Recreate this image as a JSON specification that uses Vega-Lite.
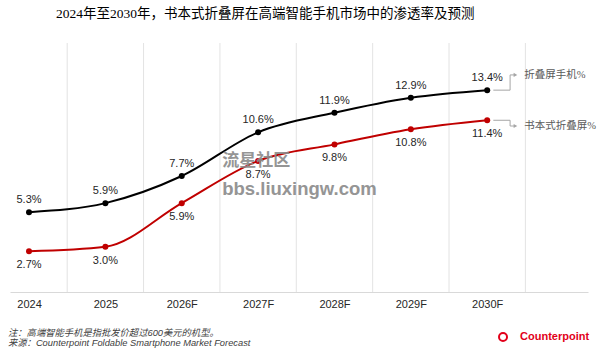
{
  "$schema": "https://vega.github.io/schema/vega-lite/v6.json",
  "autosize": "none",
  "width": 578,
  "height": 249,
  "padding": {"left": 10, "top": 43, "right": 12, "bottom": 62},
  "background": "white",
  "config": {"view": {"stroke": null}},
  "title": {
    "text": "2024年至2030年，书本式折叠屏在高端智能手机市场中的渗透率及预测",
    "anchor": "start",
    "dx": 48,
    "offset": 22,
    "font": "Liberation Serif, Noto Sans CJK SC",
    "fontSize": 13.5,
    "fontWeight": "normal",
    "color": "#000000"
  },
  "datasets": {
    "main": [
      {"i": 0, "s": "折叠屏手机%", "v": 0.053},
      {"i": 1, "s": "折叠屏手机%", "v": 0.059},
      {"i": 2, "s": "折叠屏手机%", "v": 0.077},
      {"i": 3, "s": "折叠屏手机%", "v": 0.106},
      {"i": 4, "s": "折叠屏手机%", "v": 0.119},
      {"i": 5, "s": "折叠屏手机%", "v": 0.129},
      {"i": 6, "s": "折叠屏手机%", "v": 0.134},
      {"i": 0, "s": "书本式折叠屏%", "v": 0.027},
      {"i": 1, "s": "书本式折叠屏%", "v": 0.030},
      {"i": 2, "s": "书本式折叠屏%", "v": 0.059},
      {"i": 3, "s": "书本式折叠屏%", "v": 0.087},
      {"i": 4, "s": "书本式折叠屏%", "v": 0.098},
      {"i": 5, "s": "书本式折叠屏%", "v": 0.108},
      {"i": 6, "s": "书本式折叠屏%", "v": 0.114}
    ],
    "gridlines": [{"i": 0.5}, {"i": 1.5}, {"i": 2.5}, {"i": 3.5}, {"i": 4.5}, {"i": 5.5}, {"i": 6.5}],
    "connectors": [
      {"s": "a", "o": 0, "i": 6.08, "v": 0.134},
      {"s": "a", "o": 1, "i": 6.30, "v": 0.134},
      {"s": "a", "o": 2, "i": 6.30, "v": 0.1441},
      {"s": "a", "o": 3, "i": 6.37, "v": 0.1441},
      {"s": "b", "o": 0, "i": 6.08, "v": 0.114},
      {"s": "b", "o": 1, "i": 6.30, "v": 0.114},
      {"s": "b", "o": 2, "i": 6.30, "v": 0.1102},
      {"s": "b", "o": 3, "i": 6.37, "v": 0.1102}
    ],
    "notes": [
      {"kind": "wm", "t": "流星社区", "i": 2.53, "v": 0.087},
      {"kind": "wm2", "t": "bbs.liuxingw.com", "i": 2.53, "v": 0.0684},
      {"kind": "foot", "t": "注：高端智能手机是指批发价超过600美元的机型。", "i": -0.275, "v": -0.0272},
      {"kind": "foot", "t": "来源：Counterpoint Foldable Smartphone Market Forecast", "i": -0.275, "v": -0.0339},
      {"kind": "logo", "t": "Counterpoint", "i": 6.43, "v": -0.0299},
      {"kind": "icon", "t": "", "i": 6.207, "v": -0.0299},
      {"kind": "end", "t": "折叠屏手机%", "i": 6.485, "v": 0.1441},
      {"kind": "end", "t": "书本式折叠屏%", "i": 6.485, "v": 0.1102}
    ]
  },
  "encoding": {
    "x": {
      "field": "i", "type": "quantitative",
      "scale": {"domain": [-0.249, 7.32], "nice": false, "zero": false},
      "axis": {
        "title": null, "values": [0, 1, 2, 3, 4, 5, 6], "grid": false, "ticks": false,
        "domainColor": "#d9d9d9", "domainWidth": 1,
        "labelExpr": "['2024','2025','2026F','2027F','2028F','2029F','2030F'][datum.value]",
        "labelFont": "Liberation Sans", "labelFontSize": 11, "labelColor": "#262626", "labelPadding": 6
      }
    },
    "y": {
      "field": "v", "type": "quantitative",
      "scale": {"domain": [0, 0.1653], "nice": false},
      "axis": null
    }
  },
  "layer": [
    {
      "data": {"name": "gridlines"},
      "mark": {"type": "rule", "color": "#e3e3e3", "strokeWidth": 1},
      "encoding": {"y": null}
    },
    {
      "data": {"name": "main"},
      "mark": {"type": "line", "interpolate": "monotone", "strokeWidth": 2},
      "encoding": {
        "color": {
          "field": "s", "type": "nominal",
          "scale": {"domain": ["折叠屏手机%", "书本式折叠屏%"], "range": ["#000000", "#c00000"]},
          "legend": null
        }
      }
    },
    {
      "data": {"name": "main"},
      "mark": {"type": "point", "filled": true, "opacity": 1, "size": 36},
      "encoding": {"color": {"field": "s", "type": "nominal"}}
    },
    {
      "data": {"name": "main"},
      "transform": [{"filter": "datum.s === '折叠屏手机%'"}],
      "mark": {"type": "text", "dy": -12, "font": "Liberation Sans", "fontSize": 11, "color": "#262626", "baseline": "middle"},
      "encoding": {"text": {"field": "v", "format": ".1%"}}
    },
    {
      "data": {"name": "main"},
      "transform": [{"filter": "datum.s === '书本式折叠屏%'"}],
      "mark": {"type": "text", "dy": 14, "font": "Liberation Sans", "fontSize": 11, "color": "#262626", "baseline": "middle"},
      "encoding": {"text": {"field": "v", "format": ".1%"}}
    },
    {
      "data": {"name": "connectors"},
      "mark": {"type": "line", "interpolate": "linear", "color": "#a6a6a6", "strokeWidth": 1},
      "encoding": {"detail": {"field": "s"}, "order": {"field": "o"}}
    },
    {
      "data": {"name": "connectors"},
      "transform": [{"filter": "datum.o === 3"}],
      "mark": {"type": "point", "shape": "triangle-right", "filled": true, "color": "#a6a6a6", "opacity": 1, "size": 18},
      "encoding": {}
    },
    {
      "data": {"name": "notes"},
      "transform": [{"filter": "datum.kind === 'end'"}],
      "mark": {"type": "text", "align": "left", "baseline": "middle", "font": "Liberation Serif, Noto Sans CJK SC", "fontSize": 10.5, "color": "#595959"},
      "encoding": {"text": {"field": "t"}}
    },
    {
      "data": {"name": "notes"},
      "transform": [{"filter": "datum.kind === 'wm'"}],
      "mark": {"type": "text", "align": "left", "baseline": "middle", "font": "Noto Sans CJK SC", "fontWeight": "bold", "fontSize": 17, "color": "#8a8a8a", "opacity": 0.9},
      "encoding": {"text": {"field": "t"}}
    },
    {
      "data": {"name": "notes"},
      "transform": [{"filter": "datum.kind === 'wm2'"}],
      "mark": {"type": "text", "align": "left", "baseline": "middle", "font": "Liberation Sans", "fontWeight": "bold", "fontSize": 18.5, "color": "#8a8a8a", "opacity": 0.9},
      "encoding": {"text": {"field": "t"}}
    },
    {
      "data": {"name": "notes"},
      "transform": [{"filter": "datum.kind === 'foot'"}],
      "mark": {"type": "text", "align": "left", "baseline": "middle", "font": "Liberation Sans, Noto Sans CJK SC", "fontStyle": "italic", "fontSize": 9.3, "color": "#404040"},
      "encoding": {"text": {"field": "t"}}
    },
    {
      "data": {"name": "notes"},
      "transform": [{"filter": "datum.kind === 'logo'"}],
      "mark": {"type": "text", "align": "left", "baseline": "middle", "font": "Liberation Sans", "fontWeight": "bold", "fontSize": 11, "color": "#e2001a"},
      "encoding": {"text": {"field": "t"}}
    },
    {
      "data": {"name": "notes"},
      "transform": [{"filter": "datum.kind === 'icon'"}],
      "mark": {"type": "point", "shape": "circle", "filled": false, "color": "#e2001a", "strokeWidth": 2, "opacity": 1, "size": 64},
      "encoding": {}
    }
  ]
}
